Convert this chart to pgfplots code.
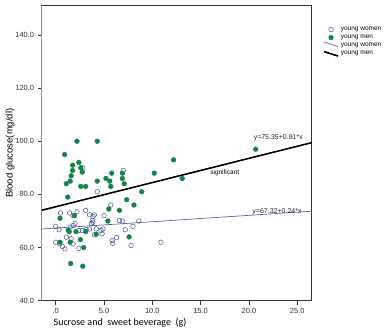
\documentclass[border=0pt]{standalone}
\usepackage{pgfplots}
\pgfplotsset{compat=1.18}
\usepackage{fontspec}
\setmainfont{Liberation Sans}
\newfontfamily\carlito{Carlito}
\definecolor{mgreen}{RGB}{22,132,72}
\definecolor{wblue}{RGB}{72,84,150}
\definecolor{wline}{RGB}{84,104,160}
\pgfplotsset{
  legmark/.style={legend image code/.code={\draw[##1] plot coordinates {(7pt,0pt)};}},
  leglineA/.style={legend image code/.code={\draw[##1] (0pt,3.5pt) -- (14pt,-1pt);}},
  leglineB/.style={legend image code/.code={\draw[##1] (0pt,2pt) -- (14pt,-2.5pt);}},
}
\begin{document}
\begin{tikzpicture}
\begin{axis}[
  name=main,
  scale only axis, width=270pt, height=295pt,
  xmin=-1.45, xmax=26.5, ymin=40, ymax=151,
  xtick={0,5,10,15,20,25}, xticklabels={.0,5.0,10.0,15.0,20.0,25.0},
  ytick={40,60,80,100,120,140}, yticklabels={40.0,60.0,80.0,100.0,120.0,140.0},
  tick align=outside, xtick pos=left, ytick pos=left,
  major tick length=4pt,
  tick style={black!80, line width=0.5pt},
  ticklabel style={font=\fontsize{7.5}{9}\selectfont, text=black!80},
  axis line style={black!80, line width=0.6pt},
  ylabel={Blood glucose(mg/dl)},
  ylabel style={at={(axis description cs:-0.117,0.5)}, anchor=center, font=\fontsize{9.5}{11}\selectfont},
  xlabel={Sucrose and\ \ sweet beverage\ \ (g)},
  xlabel style={at={(axis description cs:0.29,0)}, anchor=center, yshift=-22.3pt, font=\carlito\fontsize{10}{12}\selectfont},
  legend style={at={(1.042,0.935)}, anchor=north west, draw=none, fill=none,
    font=\fontsize{6.5}{7.5}\selectfont, row sep=-1pt, inner sep=0pt, cells={anchor=west}},
  legend cell align=left,
  clip=false,
]
\addplot[only marks, mark=o, mark size=2.3pt, draw=wblue, line width=0.5pt, legmark]
coordinates {
(2.8,90) (7.0,89) (4.3,81) (3.1,74) (5.7,76) (0.5,73) (1.45,73) (1.8,72) (2.2,73.5)
(3.5,72.3) (3.85,71.7) (4.0,72.3) (5.0,72) (0,68) (0.35,66.7) (1.5,67.7) (1.8,68.3)
(2.0,69) (2.4,66.4) (2.75,66.4) (3.15,66.7) (3.5,67) (3.7,69) (3.85,69.5) (3.8,70.2)
(4.2,67) (4.7,66.4) (4.9,67) (4.0,64.8) (4.8,65.2) (6.6,70.2) (7.2,66.7) (8.0,68)
(8.6,70) (0,62) (0.4,61.4) (0.7,60.4) (0.95,59.5) (1.1,63.9) (1.6,63.3) (1.8,61.4)
(2.4,59.7) (5.85,62.6) (5.9,61.6) (6.3,63.7) (7.8,60.8) (10.9,62) (6.9,70)
};
\addlegendentry{young women}
\addplot[only marks, mark=*, mark size=2.4pt, draw=mgreen, fill=mgreen, legmark]
coordinates {
(2.2,100) (4.3,100) (0.93,95) (1.75,91) (2.4,92) (1.75,89) (2.6,90) (2.75,88.4)
(1.6,87) (1.1,84) (1.5,85) (2.6,83) (3.1,83) (4.3,85) (5.2,86) (5.6,85) (5.7,83)
(5.8,88) (6.9,88) (6.9,86) (7.1,84) (8.9,81) (10.2,88) (12.2,93) (13.1,86) (20.7,97)
(1.25,79) (7.35,78) (8.1,76) (5.5,74.5) (6.6,74) (5.4,70) (0.45,71) (1.95,72)
(1.3,66.5) (1.4,66) (2.1,66) (3.1,66) (4.2,65) (0.45,62) (1.5,62) (2.55,63) (2.9,60)
(7.6,64) (1.55,54) (2.8,53)
};
\addlegendentry{young men}
\addplot[wline, line width=0.7pt, leglineA]
coordinates {(-1.45,66.97) (26.5,73.68)};
\addlegendentry{young women}
\addplot[black, line width=1.6pt, leglineB]
coordinates {(-1.45,74.03) (26.5,99.47)};
\addlegendentry{young men}
\node[font=\fontsize{7}{8}\selectfont, text=black!85] at (axis cs:23.04,101.3) {y=75.35+0.91*x};
\node[font=\fontsize{6.5}{8}\selectfont] at (axis cs:17.5,88.0) {significant};
\node[font=\fontsize{7}{8}\selectfont, text=black!85, anchor=west, inner sep=0pt] at (axis cs:20.35,73.6) {y=67.32+0.24*x};
\draw[black!45, line width=1.2pt] (axis cs:-1.45,40) -- (axis cs:-1.45,151);
\end{axis}
\path (main.south west) ++(-41.7pt,-34.3pt) rectangle ([xshift=77.3pt,yshift=5.7pt]main.north east);
\end{tikzpicture}
\end{document}
